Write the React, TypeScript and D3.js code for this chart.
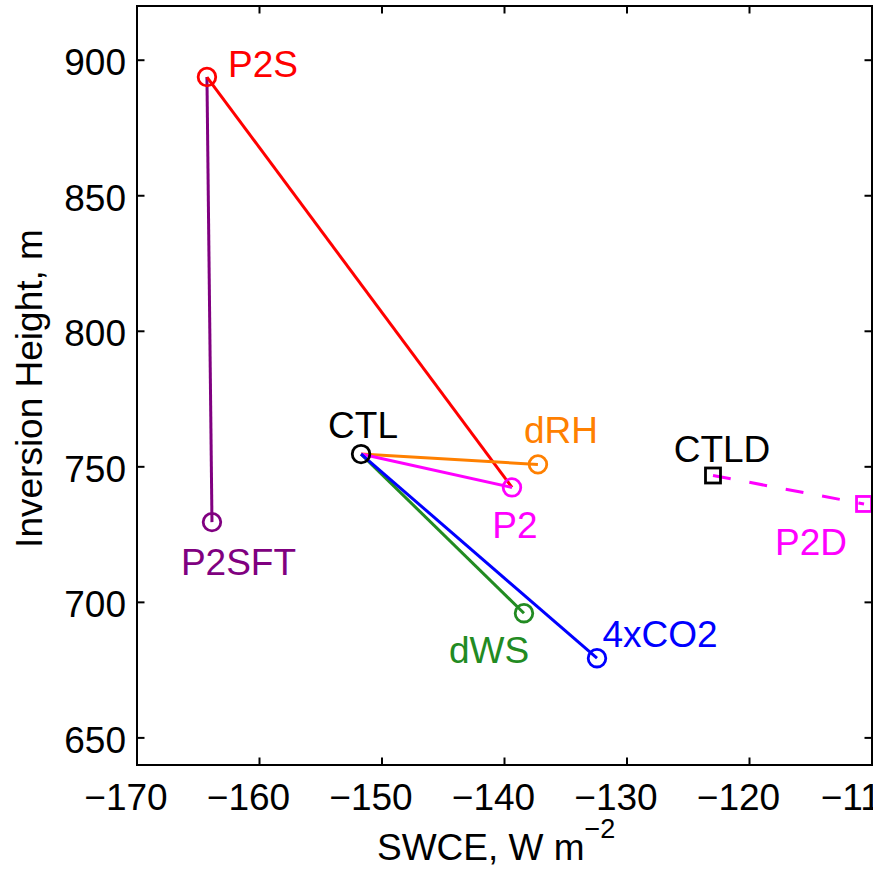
import React from "react";
import * as d3 from "d3";

const names = ["P2S", "P2SFT", "CTL", "dRH", "P2", "dWS", "4xCO2", "CTLD", "P2D"];
const swce = [-164.29, -163.88, -151.71, -137.27, -139.39, -138.41, -132.45, -122.98, -110.65];
const invHeight = [893.8, 729.6, 754.7, 750.9, 742.4, 696.0, 679.4, 746.8, 736.3];
const markers = ["circle", "circle", "circle", "circle", "circle", "circle", "circle", "square", "square"];
const pointColors = ["#ff0000", "#800080", "#000000", "#ff8000", "#ff00ff", "#228b22", "#0000ff", "#000000", "#ff00ff"];

// connections: [from, to, color, dashed]
const linkFrom = ["P2S", "P2S", "CTL", "CTL", "CTL", "CTL", "CTLD"];
const linkTo = ["P2SFT", "P2", "dRH", "P2", "dWS", "4xCO2", "P2D"];
const linkColors = ["#800080", "#ff0000", "#ff8000", "#ff00ff", "#228b22", "#0000ff", "#ff00ff"];
const linkDashed = [false, false, false, false, false, false, true];

const xTicks = [-170, -160, -150, -140, -130, -120, -110];
const yTicks = [650, 700, 750, 800, 850, 900];

// label offsets in px relative to point (layout)
const labelDx = [56, 26.5, 2, 23, 3, -35, 63, 9, -53];
const labelDy = [0, 53, -16, -21, 51, 50, -11, -13.5, 51];

const W = 873;
const H = 869;
const left = 137, right = 872, top = 6, bottom = 765;
const font = "'Liberation Sans', Arial, Helvetica, sans-serif";

export default function App() {
  const x = d3.scaleLinear().domain([-170, -110]).range([left, right]);
  const y = d3.scaleLinear().domain([640, 920]).range([bottom, top]);
  const idx = (n: string) => names.indexOf(n);
  const fmt = (v: number) => (v < 0 ? "\u2212" + Math.abs(v) : String(v));
  const tl = 7.5;

  return (
    <svg width={W} height={H} style={{ position: "absolute", left: 0, top: 0, background: "#fff" }} fontFamily={font}>
      <rect x={0} y={0} width={W} height={H} fill="#fff" />
      {/* links */}
      {linkFrom.map((f, i) => {
        const a = idx(f), b = idx(linkTo[i]);
        return (
          <line key={"l" + i} x1={x(swce[a])} y1={y(invHeight[a])} x2={x(swce[b])} y2={y(invHeight[b])}
            stroke={linkColors[i]} strokeWidth={3} strokeDasharray={linkDashed[i] ? "18 19" : undefined} />
        );
      })}
      {/* markers */}
      {names.map((n, i) => {
        const cx = x(swce[i]), cy = y(invHeight[i]);
        return markers[i] === "circle" ? (
          <circle key={"m" + n} cx={cx} cy={cy} r={8.8} fill="none" stroke={pointColors[i]} strokeWidth={2.8} />
        ) : (
          <rect key={"m" + n} x={cx - 7.5} y={cy - 7.5} width={15} height={15} fill="none" stroke={pointColors[i]} strokeWidth={2.8} />
        );
      })}
      {/* labels */}
      {names.map((n, i) => (
        <text key={"t" + n} x={x(swce[i]) + labelDx[i]} y={y(invHeight[i]) + labelDy[i]} fill={pointColors[i]}
          fontSize={37} textAnchor="middle">{n}</text>
      ))}
      {/* axes box */}
      <rect x={left} y={top} width={right - left} height={bottom - top} fill="none" stroke="#000" strokeWidth={2} />
      {xTicks.map((t) => (
        <g key={"xt" + t}>
          <line x1={x(t)} x2={x(t)} y1={bottom} y2={bottom - tl} stroke="#000" strokeWidth={2} />
          <line x1={x(t)} x2={x(t)} y1={top} y2={top + tl} stroke="#000" strokeWidth={2} />
          <text x={x(t) - 11} y={810} fontSize={37} textAnchor="middle" fill="#000">{fmt(t)}</text>
        </g>
      ))}
      {yTicks.map((t) => (
        <g key={"yt" + t}>
          <line x1={left} x2={left + tl} y1={y(t)} y2={y(t)} stroke="#000" strokeWidth={2} />
          <line x1={right} x2={right - tl} y1={y(t)} y2={y(t)} stroke="#000" strokeWidth={2} />
          <text x={126} y={y(t) + 15} fontSize={37} textAnchor="end" fill="#000">{fmt(t)}</text>
        </g>
      ))}
      <text x={377} y={860} fontSize={37} fill="#000">
        SWCE, W m<tspan fontSize={27} dy={-22}>{"\u22122"}</tspan>
      </text>
      <text transform={`translate(42, ${(top + bottom) / 2 + 3}) rotate(-90)`} fontSize={37} textAnchor="middle" fill="#000">
        Inversion Height, m
      </text>
    </svg>
  );
}
